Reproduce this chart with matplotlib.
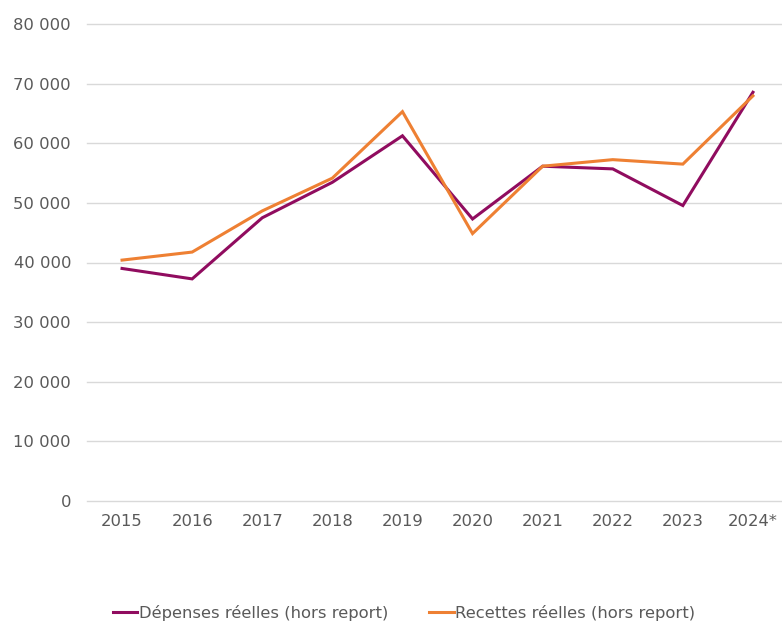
import matplotlib
matplotlib.use("Agg")
import matplotlib.pyplot as plt
from matplotlib.ticker import FuncFormatter

years = ["2015", "2016", "2017", "2018", "2019", "2020", "2021", "2022", "2023", "2024*"]
depenses = [39000, 37250, 47500, 53450, 61250, 47300, 56150, 55700, 49550, 68550]
recettes = [40400, 41750, 48650, 54150, 65300, 44850, 56150, 57250, 56500, 67950]
yticks = [0, 10000, 20000, 30000, 40000, 50000, 60000, 70000, 80000]

purple = "#900C5F"
orange = "#EE8033"
grey = "#595959"

fig = plt.figure(figsize=(7.82, 6.23), dpi=100)
left = 87 / 782
bottom = (623 - 501) / 623
top = (623 - 24) / 623
ax = fig.add_axes([left, bottom, 1 - left, top - bottom])

x = list(range(len(years)))
ax.plot(x, depenses, color=purple, lw=2.2, label="Dépenses réelles (hors report)", solid_joinstyle="miter")
ax.plot(x, recettes, color=orange, lw=2.2, label="Recettes réelles (hors report)", solid_joinstyle="miter")

ax.set_ylim(0, 80000)
ax.set_xlim(-0.5, (782 - 87) / 70.1 - 0.5)
ax.set_yticks(yticks)
ax.yaxis.set_major_formatter(FuncFormatter(lambda v, p: f"{int(v):,}".replace(",", " ")))
ax.set_xticks(x)
ax.set_xticklabels(years)
ax.grid(axis="y", color="#D9D9D9", lw=1)
for gl in ax.get_ygridlines():
    gl.set_clip_on(False)
ax.set_axisbelow(True)
for s in ax.spines.values():
    s.set_visible(False)
ax.tick_params(length=0, labelsize=11.8, colors=grey)
ax.tick_params(axis="y", pad=11.5)
ax.tick_params(axis="x", pad=9)

leg = fig.legend(loc="center", bbox_to_anchor=(404 / 782, 1 - 613 / 623), ncol=2, frameon=False,
                 fontsize=11.8, handlelength=1.5, handletextpad=0.1, columnspacing=2.5,
                 labelcolor=grey)

fig.savefig("out.png", dpi=100)
